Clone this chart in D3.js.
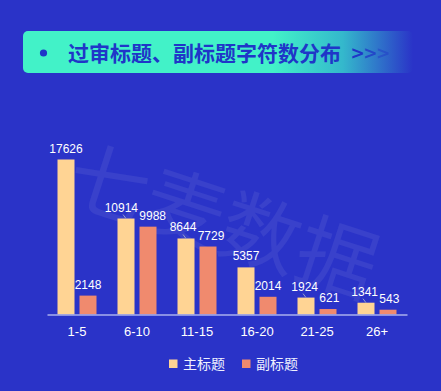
<!DOCTYPE html>
<html>
<head>
<meta charset="utf-8">
<script src="https://cdn.jsdelivr.net/npm/d3@7/dist/d3.min.js"></script>
<style>
  html, body { margin: 0; padding: 0; background: #2a33c8; }
  svg { display: block; font-family: "Noto Sans CJK SC", "Liberation Sans", Arial, sans-serif; }
</style>
</head>
<body>
<div class="chart"></div>
<script>
// data
var categories = ["1-5", "6-10", "11-15", "16-20", "21-25", "26+"];
var mainTitle = [17626, 10914, 8644, 5357, 1924, 1341];
var subTitle = [2148, 9988, 7729, 2014, 621, 543];
var seriesNames = ["主标题", "副标题"];
var chartTitle = "过审标题、副标题字符数分布";

var svgWidth = 441;
var svgHeight = 391;
var colors = ["#ffd494", "#f08a6e"];

var svg = d3.select(".chart")
  .append("svg")
  .attr("width", svgWidth)
  .attr("height", svgHeight);

svg.append("rect")
  .attr("width", svgWidth)
  .attr("height", svgHeight)
  .attr("fill", "#2a33c8");

// title banner with fade to the right
var defs = svg.append("defs");
var grad = defs.append("linearGradient")
  .attr("id", "titleGrad")
  .attr("x1", "0%").attr("x2", "100%")
  .attr("y1", "0%").attr("y2", "0%");
grad.append("stop").attr("offset", "0%").attr("stop-color", "#42f2c8");
grad.append("stop").attr("offset", "64%").attr("stop-color", "#42f2c8");
grad.append("stop").attr("offset", "82%").attr("stop-color", "#34b8cc");
grad.append("stop").attr("offset", "100%").attr("stop-color", "#2a33c8");

svg.append("rect")
  .attr("x", 23)
  .attr("y", 31)
  .attr("width", 390)
  .attr("height", 42)
  .attr("rx", 5)
  .attr("fill", "url(#titleGrad)");

svg.append("circle")
  .attr("cx", 43.5)
  .attr("cy", 53)
  .attr("r", 3.6)
  .attr("fill", "#1f36c8");

svg.append("text")
  .attr("x", 68)
  .attr("y", 60.5)
  .style("font-size", "21px")
  .style("font-weight", "bold")
  .style("fill", "#1f36c8")
  .text(chartTitle);

var arrows = svg.append("text")
  .attr("x", 352)
  .attr("y", 59)
  .style("font-size", "17px")
  .style("font-weight", "bold")
  .style("font-family", "'DejaVu Sans', sans-serif")
  .style("fill", "#1f36c8");
[1, 0.75, 0.45].forEach(function(op) {
  arrows.append("tspan").attr("fill-opacity", op).attr("dx", -1.5).text(">");
});

// watermark
svg.append("text")
  .attr("transform", "translate(214,249) rotate(18)")
  .attr("text-anchor", "middle")
  .style("font-size", "80px")
  .style("fill", "#ffffff")
  .style("fill-opacity", 0.07)
  .text("七麦数据");

var margin = { left: 47, right: 34 };
var baseY = 314.5;

var x0 = d3.scaleBand()
  .domain(categories)
  .range([margin.left, svgWidth - margin.right])
  .paddingInner(0)
  .paddingOuter(0);

var yScale = d3.scaleLinear()
  .domain([0, 17626])
  .range([baseY, 159.5]);

var barW = 17;
var gap = 5;

var rows = categories.map(function(c, i) {
  return { cat: c, values: [mainTitle[i], subTitle[i]] };
});

var groups = svg.selectAll(".grp")
  .data(rows)
  .enter()
  .append("g")
  .attr("class", "grp");

groups.each(function(d) {
  var g = d3.select(this);
  var cx = x0(d.cat) + x0.bandwidth() / 2;
  var xs = [cx - gap / 2 - barW, cx + gap / 2];
  d.values.forEach(function(v, k) {
    g.append("rect")
      .attr("x", xs[k])
      .attr("y", yScale(v))
      .attr("width", barW)
      .attr("height", baseY - yScale(v))
      .attr("fill", colors[k]);
  });

  // value labels, pushed apart if they collide
  var labels = d.values.map(function(v, k) {
    return g.append("text")
      .attr("x", xs[k] + barW / 2)
      .attr("y", yScale(v) - 7)
      .attr("text-anchor", "middle")
      .style("font-size", "12px")
      .style("font-family", "'Liberation Sans', Arial, sans-serif")
      .style("fill", "#ffffff")
      .text(v);
  });
  var b0 = labels[0].node().getBBox();
  var b1 = labels[1].node().getBBox();
  var vOverlap = !(b0.y + b0.height < b1.y || b1.y + b1.height < b0.y);
  var over = b0.x + b0.width - b1.x + 1;
  if (vOverlap && over > 0) {
    labels[0].attr("x", +labels[0].attr("x") - over / 2);
    labels[1].attr("x", +labels[1].attr("x") + over / 2);
    // little leader line back to the bar
    var top0 = yScale(d.values[0]);
    g.append("line")
      .attr("x1", xs[0] + barW / 2 - 3)
      .attr("y1", top0 - 4)
      .attr("x2", xs[0] + barW / 2)
      .attr("y2", top0)
      .attr("stroke", "#9aa0c8")
      .attr("stroke-width", 1);
  }
});

// axis
var xAxis = d3.axisBottom(x0).tickSize(0).tickPadding(12);
var axisG = svg.append("g")
  .attr("transform", "translate(0," + baseY + ")")
  .call(xAxis);
axisG.select(".domain")
  .attr("stroke", "#aab0ee")
  .attr("stroke-width", 1.5);
axisG.selectAll("text")
  .style("font-size", "13px")
  .style("font-family", "'Liberation Sans', Arial, sans-serif")
  .style("fill", "#ffffff");

// legend
var legend = svg.append("g");
var legX = [169, 242];
seriesNames.forEach(function(name, k) {
  legend.append("rect")
    .attr("x", legX[k])
    .attr("y", 359.5)
    .attr("width", 8.5)
    .attr("height", 8.5)
    .attr("fill", colors[k]);
  legend.append("text")
    .attr("x", legX[k] + 14)
    .attr("y", 369)
    .style("font-size", "14px")
    .style("fill", "#eef0ff")
    .text(name);
});
</script>
</body>
</html>
